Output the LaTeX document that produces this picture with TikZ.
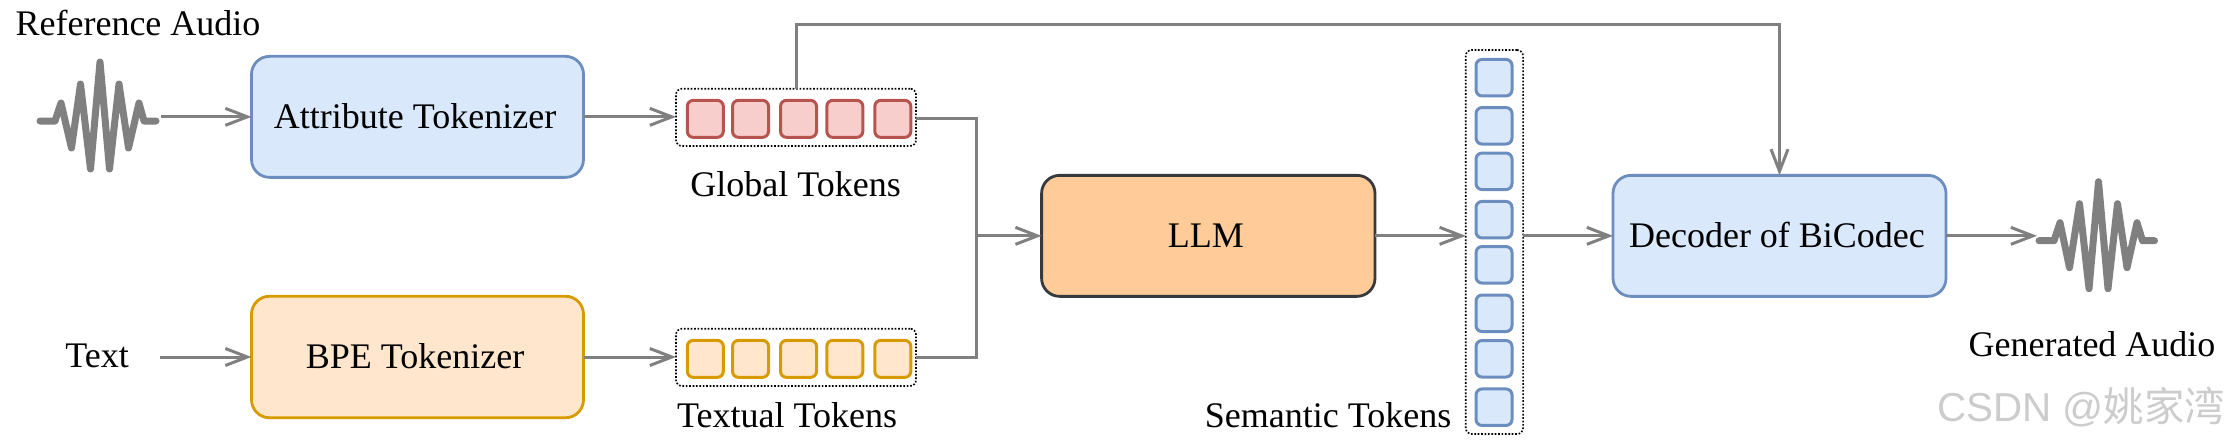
\documentclass[tikz,border=0pt]{standalone}
\usepackage{fontspec}
\setmainfont{Liberation Serif}
\newfontfamily\cjkwm{Noto Sans CJK SC}
\newfontfamily\latwm{Liberation Sans}
\usetikzlibrary{arrows.meta}
\definecolor{bluefill}{HTML}{DAE8FC}
\definecolor{bluedraw}{HTML}{6C8EBF}
\definecolor{redfill}{HTML}{F8CECC}
\definecolor{reddraw}{HTML}{B85450}
\definecolor{orfill}{HTML}{FFE6CC}
\definecolor{ordraw}{HTML}{D79B00}
\definecolor{llmfill}{HTML}{FFCC99}
\definecolor{llmdraw}{HTML}{36393D}
\definecolor{conn}{HTML}{808080}
\tikzset{
  mainbox/.style={draw,line width=2.8pt,rounded corners=18pt,outer sep=0pt,inner sep=0pt,
    font=\fontsize{36}{36}\selectfont,text depth=0pt,text height=23pt,execute at begin node={\kern-5pt}},
  attrbox/.style={mainbox,fill=bluefill,draw=bluedraw,minimum width=332pt,minimum height=121pt},
  bpebox/.style={mainbox,fill=orfill,draw=ordraw,minimum width=332pt,minimum height=121.5pt},
  llmbox/.style={mainbox,fill=llmfill,draw=llmdraw,minimum width=333.4pt,minimum height=121pt},
  decbox/.style={mainbox,fill=bluefill,draw=bluedraw,minimum width=333pt,minimum height=121pt},
  tokbox/.style={draw,line width=3pt,rounded corners=6pt,outer sep=0pt,inner sep=0pt},
  redtok/.style={tokbox,fill=redfill,draw=reddraw,minimum width=36pt,minimum height=37pt},
  ortok/.style={tokbox,fill=orfill,draw=ordraw,minimum width=36pt,minimum height=37pt},
  bluetok/.style={tokbox,fill=bluefill,draw=bluedraw,minimum width=36pt,minimum height=36.5pt},
  dotbox/.style={draw=black,line width=1.6pt,dash pattern=on 1.7pt off 1.7pt,rounded corners=6pt,
    outer sep=0pt,inner sep=0pt},
  label/.style={anchor=base,inner sep=0pt,font=\fontsize{36}{36}\selectfont},
  arrowline/.style={draw=conn,line width=3pt,-{Straight Barb[length=22pt,width=17pt,line width=3pt]}},
  plainline/.style={draw=conn,line width=3pt,line join=miter},
  wavebox/.style={inner sep=0pt,outer sep=0pt},
  waveline/.style={draw=conn,line width=7pt,line join=round,line cap=round},
}
\begin{document}
\begin{tikzpicture}[x=1pt,y=-1pt]
\useasboundingbox (0,0) rectangle (2230,444);
% dotted containers
\node[dotbox,minimum width=240pt,minimum height=57.3pt] (gt) at (796,117.35) {};
\node[dotbox,minimum width=240pt,minimum height=57.3pt] (tt) at (796,357.35) {};
\node[dotbox,minimum width=57.3pt,minimum height=384pt] (st) at (1494.4,242) {};
% main boxes
\node[attrbox] (attr) at (417.5,116.85) {Attribute Tokenizer};
\node[bpebox] (bpe) at (417.5,357) {BPE Tokenizer};
\node[llmbox] (llm) at (1208.3,235.85) {LLM};
\node[decbox] (dec) at (1779.5,235.85) {Decoder of BiCodec};
% tokens
\node[redtok] (g1) at (705.3,118.85) {};
\node[redtok] (g2) at (750.5,118.85) {};
\node[redtok] (g3) at (798.5,118.85) {};
\node[redtok] (g4) at (844.8,118.85) {};
\node[redtok] (g5) at (892.8,118.85) {};
\node[ortok] (t1) at (705.3,358.85) {};
\node[ortok] (t2) at (750.5,358.85) {};
\node[ortok] (t3) at (798.5,358.85) {};
\node[ortok] (t4) at (844.8,358.85) {};
\node[ortok] (t5) at (892.8,358.85) {};
\node[bluetok] (s1) at (1494,77.7) {};
\node[bluetok] (s2) at (1494,125.8) {};
\node[bluetok] (s3) at (1494,171.3) {};
\node[bluetok] (s4) at (1494,219.7) {};
\node[bluetok] (s5) at (1494,264.8) {};
\node[bluetok] (s6) at (1494,313.3) {};
\node[bluetok] (s7) at (1494,358.8) {};
\node[bluetok] (s8) at (1494,407.2) {};
% labels
\node[label] (lref) at (138,35.5) {Reference Audio};
\node[label] (ltxt) at (97,367.7) {Text};
\node[label] (lgt) at (795.5,196) {Global Tokens};
\node[label] (ltt) at (787,427.7) {Textual Tokens};
\node[label] (lst) at (1328,427.7) {Semantic Tokens};
\node[label] (lga) at (2092,356) {Generated Audio};
% waves
\node[wavebox,minimum width=124pt,minimum height=113pt] (w1) at (99,116.85) {};
\node[wavebox,minimum width=116pt,minimum height=113pt] (w2) at (2095,235.85) {};
\draw[waveline] (40,121) -- ++(15,0) -- ++(6,-18) -- ++(10.5,45) -- ++(9,-64) -- ++(10,85) -- ++(9.5,-107)
  -- ++(9.5,107) -- ++(9.5,-85) -- ++(9.5,64) -- ++(10.5,-45) -- ++(5,18) -- ++(12,0);
\draw[waveline] (2039,240.7) -- ++(15,0) -- ++(6,-18) -- ++(9.5,45) -- ++(10,-64) -- ++(9.5,85) -- ++(9.5,-107)
  -- ++(9.5,107) -- ++(9.5,-85) -- ++(9.5,64) -- ++(10,-45) -- ++(5.5,18) -- ++(12,0);
% connector helpers
\coordinate (tstart) at (160,357);
\coordinate (jct) at (976,235.85);
\coordinate (topmid) at (1288,24.7);
% connectors
\draw[arrowline] (w1.east) -- (attr.west);
\draw[arrowline] (attr.east) -- (attr.east -| gt.west);
\draw[arrowline] (tstart) -- (bpe.west);
\draw[arrowline] (bpe.east) -- (bpe.east -| tt.west);
\draw[plainline] ([yshift=-1.5pt]gt.east) -| (jct);
\draw[plainline] (tt.east) -| (jct);
\draw[arrowline] (jct) -- (llm.west);
\draw[arrowline] (llm.east) -- (llm.east -| st.west);
\draw[arrowline] (llm.east -| st.east) -- (dec.west);
\draw[arrowline] (gt.north) |- (topmid) -| (dec.north);
\draw[arrowline] (dec.east) -- (w2.west);
% watermark
\node[anchor=base west,inner sep=0pt,text=black!20] (wm) at (1937,421.5)
  {\fontsize{40.4}{40.4}\selectfont\latwm CSDN @\cjkwm 姚家湾};
\end{tikzpicture}
\end{document}
